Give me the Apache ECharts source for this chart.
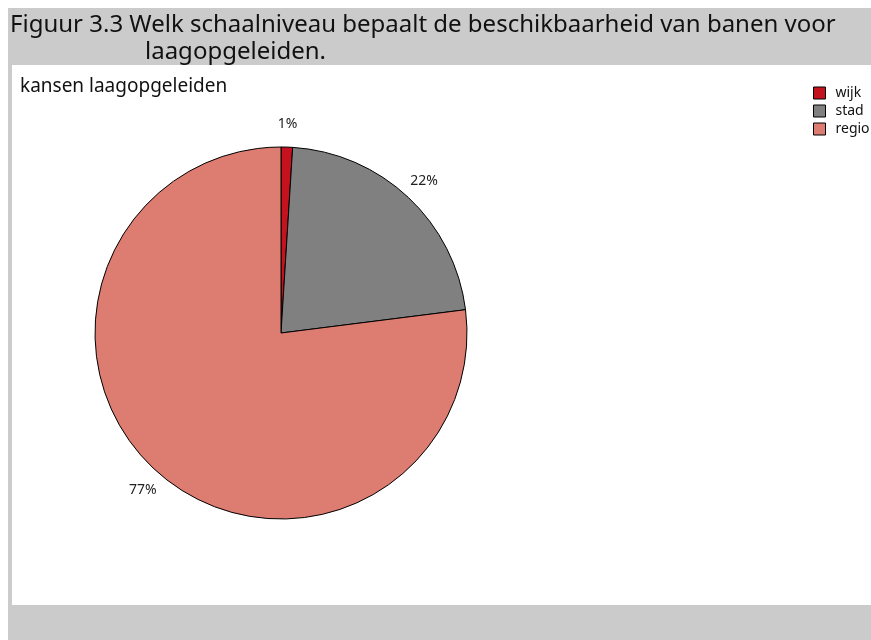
<!DOCTYPE html>
<html>
<head>
<meta charset="utf-8">
<script src="https://cdn.jsdelivr.net/npm/echarts@6/dist/echarts.min.js"></script>
<style>
html,body{margin:0;padding:0;background:#fff;}
#chart{width:871px;height:640px;}
</style>
</head>
<body>
<div id="chart"></div>
<script>
const categories = ['wijk', 'stad', 'regio'];
const values = [1, 22, 77];
const colors = ['#c4121e', '#808080', '#dd7c70'];
const titleLine1 = 'Figuur 3.3 Welk schaalniveau bepaalt de beschikbaarheid van banen voor';
const titleLine2 = 'laagopgeleiden.';
const subtitle = 'kansen laagopgeleiden';

const chart = echarts.init(document.getElementById('chart'));
const pieData = categories.map((c, i) => ({ name: c, value: values[i], itemStyle: { color: colors[i] } }));
const font = 'Noto Sans';
chart.setOption({
  backgroundColor: '#fff',
  animation: false,
  graphic: [
    { type: 'rect', shape: { x: 8, y: 8, width: 863, height: 632 }, style: { fill: '#cbcbcb' }, z: -10, silent: true },
    { type: 'rect', shape: { x: 12, y: 65, width: 859, height: 540 }, style: { fill: '#ffffff' }, z: -9, silent: true }
  ],
  title: [
    { text: titleLine1, left: 5, top: 8, textStyle: { fontFamily: font, fontSize: 24, fontWeight: 'normal', color: '#111' } },
    { text: titleLine2, left: 140, top: 35, textStyle: { fontFamily: font, fontSize: 24, fontWeight: 'normal', color: '#111' } },
    { text: subtitle, left: 15, top: 72, textStyle: { fontFamily: font, fontSize: 19, fontWeight: 'normal', color: '#111' } }
  ],
  legend: {
    orient: 'vertical',
    left: 813,
    top: 86,
    padding: 0,
    itemWidth: 12,
    itemHeight: 12,
    itemGap: 4,
    icon: 'rect',
    data: categories,
    itemStyle: { borderColor: '#000', borderWidth: 1 },
    textStyle: { fontFamily: font, fontSize: 14, color: '#111', padding: [0, 0, 0, 5] }
  },
  series: [
    {
      type: 'pie',
      center: [281, 333],
      radius: 186,
      startAngle: 90,
      clockwise: true,
      avoidLabelOverlap: false,
      label: { show: false },
      labelLine: { show: false },
      emphasis: { disabled: true },
      itemStyle: { borderColor: '#000', borderWidth: 1 },
      data: pieData
    },
    {
      type: 'pie',
      center: [281, 333],
      radius: [186, 226],
      startAngle: 90,
      clockwise: true,
      silent: true,
      avoidLabelOverlap: false,
      emphasis: { disabled: true },
      itemStyle: { color: 'rgba(0,0,0,0)', borderWidth: 0 },
      label: { show: true, position: 'inside', formatter: p => p.value + '%', fontFamily: font, fontSize: 14, color: '#222' },
      labelLine: { show: false },
      data: categories.map((c, i) => ({ name: c, value: values[i] }))
    }
  ]
});
</script>
</body>
</html>
